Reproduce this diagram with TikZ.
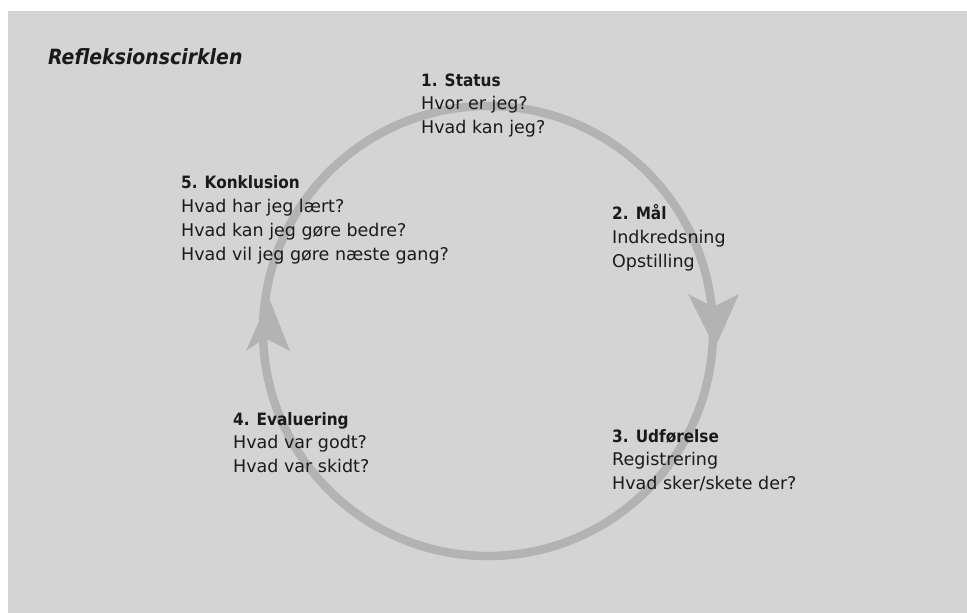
\documentclass[tikz,border=0pt]{standalone}
\usepackage{fontspec}
\setmainfont{DejaVu Sans}
\newfontfamily\condfont{DejaVu Sans Condensed}
\definecolor{bg}{HTML}{D4D4D4}
\definecolor{ringc}{HTML}{B3B3B3}
\definecolor{ink}{HTML}{1A1A1A}
\begin{document}
\begin{tikzpicture}[x=1pt,y=-1pt,
  ring/.style={draw=ringc, line width=8.5pt},
  head/.style={fill=ringc},
  txt/.style={anchor=base west, inner sep=0pt, text=ink, font=\fontsize{17.5}{20}\selectfont},
  hd/.style={anchor=base west, inner sep=0pt, text=ink, font=\condfont\bfseries\fontsize{17}{20}\selectfont},
  ttl/.style={anchor=base west, inner sep=0pt, text=ink, font=\condfont\bfseries\itshape\fontsize{21}{24}\selectfont}]
\useasboundingbox (0,0) rectangle (967,613);
\fill[white] (0,0) rectangle (967,613);
\fill[bg] (8,11) rectangle (967,613);
% ring
\coordinate (c) at (488,331);
\draw[ring] (c) circle[radius=225pt];
% arrowheads
\fill[head] (715,348) -- (739,294) -- (713,307) -- (688,294) -- cycle;
\fill[head] (269,298) -- (290,351) -- (265,338) -- (246,351) -- cycle;
% title
\node[ttl] (title) at (48,64) {Refleksionscirklen};
% 1
\node[hd]  (s1h) at (421,86)  {1. Status};
\node[txt] (s1a) at (421,109) {Hvor er jeg?};
\node[txt] (s1b) at (421,133) {Hvad kan jeg?};
% 2
\node[hd]  (s2h) at (612,219) {2. Mål};
\node[txt] (s2a) at (612,243) {Indkredsning};
\node[txt] (s2b) at (612,267) {Opstilling};
% 3
\node[hd]  (s3h) at (612,442) {3. Udførelse};
\node[txt] (s3a) at (612,465) {Registrering};
\node[txt] (s3b) at (612,489) {Hvad sker/skete der?};
% 4
\node[hd]  (s4h) at (233,425) {4. Evaluering};
\node[txt] (s4a) at (233,448) {Hvad var godt?};
\node[txt] (s4b) at (233,472) {Hvad var skidt?};
% 5
\node[hd]  (s5h) at (181,188) {5. Konklusion};
\node[txt] (s5a) at (181,212) {Hvad har jeg lært?};
\node[txt] (s5b) at (181,236) {Hvad kan jeg gøre bedre?};
\node[txt] (s5c) at (181,260) {Hvad vil jeg gøre næste gang?};
\end{tikzpicture}
\end{document}
